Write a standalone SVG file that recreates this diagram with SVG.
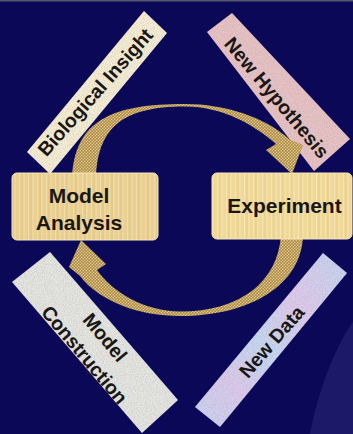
<svg xmlns="http://www.w3.org/2000/svg" width="353" height="434" viewBox="0 0 353 434">
  <defs>
    <style>
      .lbl { font-family: "Liberation Sans", Arial, sans-serif; font-weight: bold; fill: #1a1612; text-anchor: middle; }
      .strip-text { font-size: 19.5px; }
      .box-text { font-size: 21px; }
      .box { stroke: #f7e7ba; stroke-width: 1; }
    </style>
    <!-- woven gold texture for the cycle arrows -->
    <pattern id="gold" width="3" height="3" patternUnits="userSpaceOnUse">
      <rect width="3" height="3" fill="#bf9f5a"/>
      <path d="M0,3 L3,0" stroke="#e4cf8f" stroke-width="0.9"/>
      <path d="M0,0 L3,3" stroke="#7f6236" stroke-width="0.6" opacity="0.6"/>
    </pattern>
    <!-- fibrous paper for the two boxes -->
    <pattern id="paper" width="9" height="6" patternUnits="userSpaceOnUse">
      <rect width="9" height="6" fill="#e9cf92"/>
      <path d="M1.5,0 V6 M6,0 V6" stroke="#f3e0ac" stroke-width="1" opacity="0.8"/>
      <path d="M4,0 V6" stroke="#d7ba7e" stroke-width="0.7" opacity="0.7"/>
    </pattern>
    <pattern id="paper2" width="9" height="6" patternUnits="userSpaceOnUse">
      <rect width="9" height="6" fill="#f0d898"/>
      <path d="M1.5,0 V6 M6,0 V6" stroke="#f8e8b8" stroke-width="1" opacity="0.8"/>
      <path d="M4,0 V6" stroke="#dcc186" stroke-width="0.7" opacity="0.7"/>
    </pattern>
    <linearGradient id="dataFill" x1="0" y1="1" x2="1" y2="0">
      <stop offset="0" stop-color="#c9d4f4"/>
      <stop offset="0.25" stop-color="#dccaee"/>
      <stop offset="0.45" stop-color="#c6d8f5"/>
      <stop offset="0.7" stop-color="#e0cbee"/>
      <stop offset="1" stop-color="#c4d6f4"/>
    </linearGradient>
    <!-- speckle grain laid over the strip fills -->
    <filter id="grain" x="0" y="0" width="100%" height="100%">
      <feTurbulence type="fractalNoise" baseFrequency="0.9" numOctaves="2" seed="4" result="n"/>
      <feColorMatrix in="n" type="matrix" values="0 0 0 0 0.35  0 0 0 0 0.33  0 0 0 0 0.3  0 0 0 0.8 -0.28" result="spots"/>
      <feComposite in="spots" in2="SourceGraphic" operator="in" result="s"/>
      <feMerge><feMergeNode in="SourceGraphic"/><feMergeNode in="s"/></feMerge>
    </filter>
  </defs>

  <!-- backdrop -->
  <rect width="353" height="434" fill="#0b0957"/>
  <rect width="353" height="1.5" fill="#56566e"/>
  <path d="M353,322 C336,345 318,390 310,434 L353,434 Z" fill="#1b1968"/>

  <!-- strips -->
  <g id="biological-insight">
    <polygon points="27,152 144,11 167,33 50,174" fill="#f7efd5" filter="url(#grain)"/>
    <text class="lbl strip-text" transform="translate(95,92) rotate(-48.5)" y="7">Biological Insight</text>
  </g>
  <g id="new-hypothesis">
    <polygon points="207,32 232,13 350,139 314,171" fill="#e9c2c6" filter="url(#grain)"/>
    <text class="lbl strip-text" transform="translate(277,97.5) rotate(50)" y="7">New Hypothesis</text>
  </g>
  <g id="model-construction">
    <polygon points="12,282 50,252 178,400 142,433" fill="#e6e6e3" filter="url(#grain)"/>
    <g transform="translate(95,346) rotate(50)">
      <text class="lbl strip-text" y="-6.5">Model</text>
      <text class="lbl strip-text" y="20.5">Construction</text>
    </g>
  </g>
  <g id="new-data">
    <polygon points="323,253 347,273 220,427 195,407" fill="url(#dataFill)" filter="url(#grain)"/>
    <text class="lbl strip-text" transform="translate(271.5,341.5) rotate(-49)" y="7">New Data</text>
  </g>

  <!-- cycle arrows -->
  <g id="connectors" fill="url(#gold)">
    <path d="M72,180 C74,120 112,104 185,104 C225,104 265,117 289,139 L303,145 L292,174 L266,150 L276,144 C255,125 222,106.5 185,106.5 C122,106.5 97,128 96,180 Z"/>
    <path d="M303,235 C302,285 250,316 180,316 C140,316 100,302 80,276 L69,267 L81,240 L106,264 L97,270 C112,292 145,311.5 180,311.5 C240,311.5 278,282 281,235 Z"/>
  </g>

  <!-- boxes -->
  <g id="model-analysis">
    <rect class="box" x="12" y="173" width="146" height="67" rx="5" fill="url(#paper)"/>
    <text class="lbl box-text" x="79" y="203">Model</text>
    <text class="lbl box-text" x="79" y="230">Analysis</text>
  </g>
  <g id="experiment">
    <rect class="box" x="212" y="173" width="140" height="66" rx="5" fill="url(#paper2)"/>
    <text class="lbl box-text" x="284.5" y="213">Experiment</text>
  </g>
</svg>
